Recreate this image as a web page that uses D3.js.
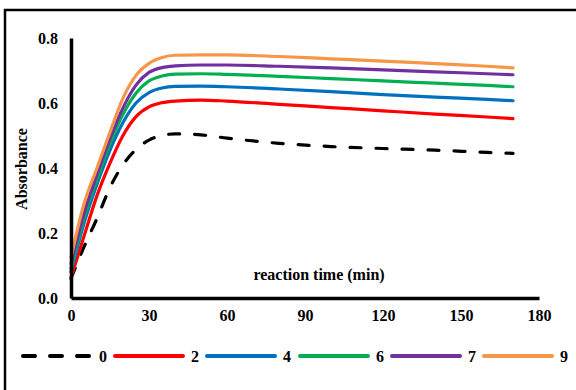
<!DOCTYPE html>
<html>
<head>
<meta charset="utf-8">
<script src="https://cdn.jsdelivr.net/npm/d3@7"></script>
<style>
  body { margin: 0; background: #fff; }
  text { font-family: "Liberation Serif", "Times New Roman", serif; font-weight: bold; }
</style>
</head>
<body>
<script>
const times = [0, 5, 10, 15, 20, 25, 30, 35, 40, 50, 60, 80, 100, 120, 140, 160, 170];
const s0 = [0.06, 0.157, 0.245, 0.34, 0.41, 0.457, 0.486, 0.5, 0.505, 0.502, 0.492, 0.476, 0.466, 0.46, 0.455, 0.448, 0.445];
const s2 = [0.062, 0.19, 0.315, 0.415, 0.5, 0.558, 0.588, 0.601, 0.606, 0.609, 0.606, 0.596, 0.586, 0.576, 0.566, 0.557, 0.552];
const s4 = [0.08, 0.23, 0.35, 0.455, 0.54, 0.6, 0.632, 0.646, 0.651, 0.652, 0.65, 0.643, 0.635, 0.626, 0.618, 0.611, 0.607];
const s6 = [0.09, 0.245, 0.365, 0.475, 0.565, 0.63, 0.668, 0.683, 0.689, 0.69, 0.688, 0.682, 0.675, 0.668, 0.661, 0.654, 0.65];
const s7 = [0.105, 0.26, 0.38, 0.49, 0.585, 0.655, 0.694, 0.709, 0.714, 0.717, 0.717, 0.713, 0.708, 0.702, 0.696, 0.69, 0.687];
const s9 = [0.125, 0.29, 0.4, 0.51, 0.615, 0.685, 0.722, 0.74, 0.747, 0.748, 0.748, 0.743, 0.736, 0.729, 0.721, 0.713, 0.708];

const seriesNames = ["0", "2", "4", "6", "7", "9"];
const seriesValues = [s0, s2, s4, s6, s7, s9];
const colors = ["#000000", "#ff0000", "#0070c0", "#00b050", "#7030a0", "#f79646"];
const xTicks = [0, 30, 60, 90, 120, 150, 180];
const yTicks = [0, 0.2, 0.4, 0.6, 0.8];

const width = 576, height = 390;
const svg = d3.select("body").append("svg")
  .attr("width", width).attr("height", height);

// outer frame
svg.append("path")
  .attr("d", "M5,400 L5,10 L590,10")
  .attr("fill", "none").attr("stroke", "#000").attr("stroke-width", 2.5);

const x = d3.scaleLinear().domain([0, 180]).range([71, 539]);
const y = d3.scaleLinear().domain([0, 0.8]).range([298, 38]);

const line = d3.line()
  .x((d, i) => x(times[i]))
  .y(d => y(d))
  .curve(d3.curveMonotoneX);

svg.append("g").selectAll("path")
  .data(seriesValues)
  .join("path")
  .attr("fill", "none")
  .attr("stroke", (d, i) => colors[i])
  .attr("stroke-width", 3.2)
  .attr("stroke-linecap", "round")
  .attr("stroke-dasharray", (d, i) => i === 0 ? "11,15" : null)
  .attr("d", line);

// axes
const xAxis = svg.append("g")
  .attr("transform", `translate(0,${y(0)})`)
  .call(d3.axisBottom(x).tickValues(xTicks).tickSize(0).tickPadding(12));
const yAxis = svg.append("g")
  .attr("transform", `translate(${x(0)},0)`)
  .call(d3.axisLeft(y).tickValues(yTicks).tickSize(0).tickPadding(13).tickFormat(d3.format(".1f")));

[xAxis, yAxis].forEach(g => {
  g.select(".domain").attr("stroke", "#000").attr("stroke-width", 3.5);
  g.selectAll("text").attr("font-size", 16).attr("fill", "#000")
    .style("font-family", "'Liberation Serif', serif").style("font-weight", "bold");
});
yAxis.selectAll("text").attr("dy", "0.35em");

svg.append("text")
  .attr("x", 319).attr("y", 280)
  .attr("text-anchor", "middle")
  .attr("font-size", 16)
  .text("reaction time (min)");

svg.append("text")
  .attr("transform", "translate(27,169) rotate(-90)")
  .attr("text-anchor", "middle")
  .attr("font-size", 16)
  .text("Absorbance");

// legend
const legendX = [23, 115, 207, 300, 392, 484];
const legend = svg.append("g").selectAll("g")
  .data(seriesNames)
  .join("g")
  .attr("transform", (d, i) => `translate(${legendX[i]},356)`);

legend.append("line")
  .attr("x1", 0).attr("x2", 68)
  .attr("stroke", (d, i) => colors[i])
  .attr("stroke-width", 4)
  .attr("stroke-linecap", "round")
  .attr("stroke-dasharray", (d, i) => i === 0 ? "12,15" : null);

legend.append("text")
  .attr("x", 76).attr("dy", "0.35em")
  .attr("font-size", 16)
  .text(d => d);
</script>
</body>
</html>
